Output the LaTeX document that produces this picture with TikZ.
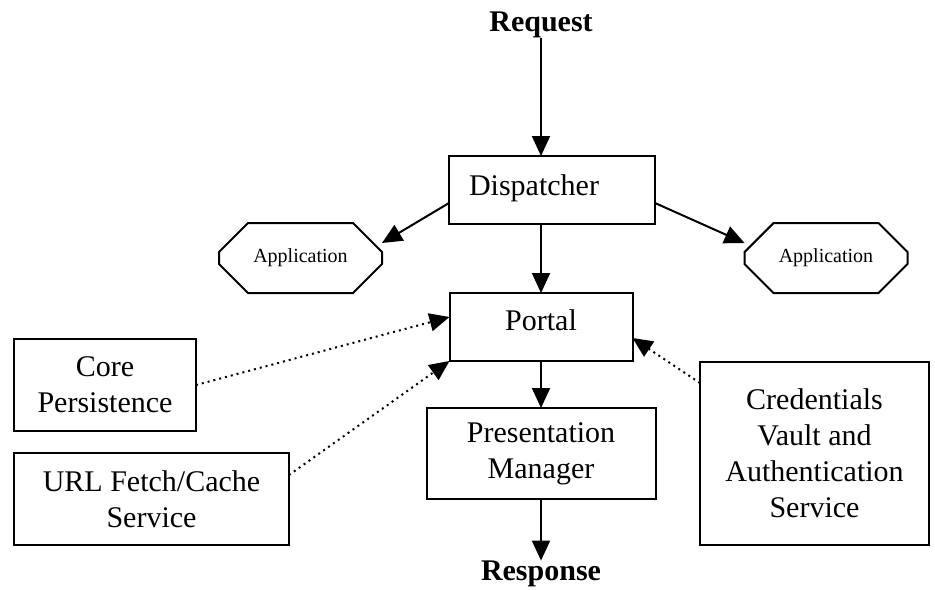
\documentclass[tikz,border=0pt]{standalone}
\usepackage{fontspec}
\setmainfont{Liberation Serif}
\usetikzlibrary{arrows.meta,shapes.misc,calc}
\begin{document}
\begin{tikzpicture}[x=0.5pt,y=-0.5pt,
  box/.style={draw,line width=1pt,inner sep=0pt,outer sep=0pt,align=center,
    font=\fontsize{15}{18}\selectfont},
  octa/.style={draw,line width=1pt,chamfered rectangle,chamfered rectangle xsep=10pt,
    chamfered rectangle ysep=10pt,inner sep=0pt,outer sep=0pt,
    minimum width=81.5pt,minimum height=35pt,font=\fontsize{10}{12}\selectfont},
  lbl/.style={inner sep=0pt,font=\fontsize{15}{18}\selectfont\bfseries},
  arr/.style={line width=1pt,-{Triangle[length=10pt,width=9pt]}},
  dot/.style={line width=1pt,dotted,-{Triangle[length=10pt,width=9pt]}}
]
\useasboundingbox (0,0) rectangle (935,589);
\node[lbl] (req) at (541,25) {Request};
\node[lbl] (resp) at (541,574) {Response};
\node[box,minimum width=103pt,minimum height=34pt] (disp) at (552,190) {};
\node[inner sep=0pt,font=\fontsize{15}{18}\selectfont] (disptext) at (534,188) {Dispatcher};
\node[box,minimum width=91.5pt,minimum height=34pt] (portal) at (541,327) {};
\node[inner sep=0pt,font=\fontsize{15}{18}\selectfont] (porttext) at (541,320) {Portal};
\node[box,minimum width=114.5pt,minimum height=45.5pt] (pm) at (541,453.5) {Presentation\\Manager};
\node[box,minimum width=91pt,minimum height=46pt] (core) at (105,385) {Core\\Persistence};
\node[box,minimum width=137.5pt,minimum height=46pt] (url) at (151.5,499) {URL Fetch/Cache\\Service};
\node[box,minimum width=114.5pt,minimum height=91.5pt] (cred) at (814.5,453.5) {Credentials\\Vault and\\Authentication\\Service};
\node[octa] (appL) at (300.5,258) {Application};
\node[octa] (appR) at (826,258) {Application};

\draw[arr] (req.south) -- (req.south |- disp.north);
\draw[arr] ([yshift=10.5pt]disp.south west) -- ([yshift=-10pt]appL.north -| appL.east);
\draw[arr] ([yshift=10.5pt]disp.south east) -- ([yshift=-10pt]appR.north -| appR.west);
\draw[arr] (portal.north |- disp.south) -- (portal.north);
\draw[arr] (portal.south) -- (pm.north);
\draw[arr] (pm.south) -- (pm.south |- resp.north);
\draw[dot] (core.east) -- ([yshift=5pt]portal.west);
\draw[dot] ([yshift=12pt]url.east) -- (portal.south west);
\draw[dot] ([yshift=-10.5pt]cred.north west) -- ([yshift=-5.5pt]portal.east);
\end{tikzpicture}
\end{document}
